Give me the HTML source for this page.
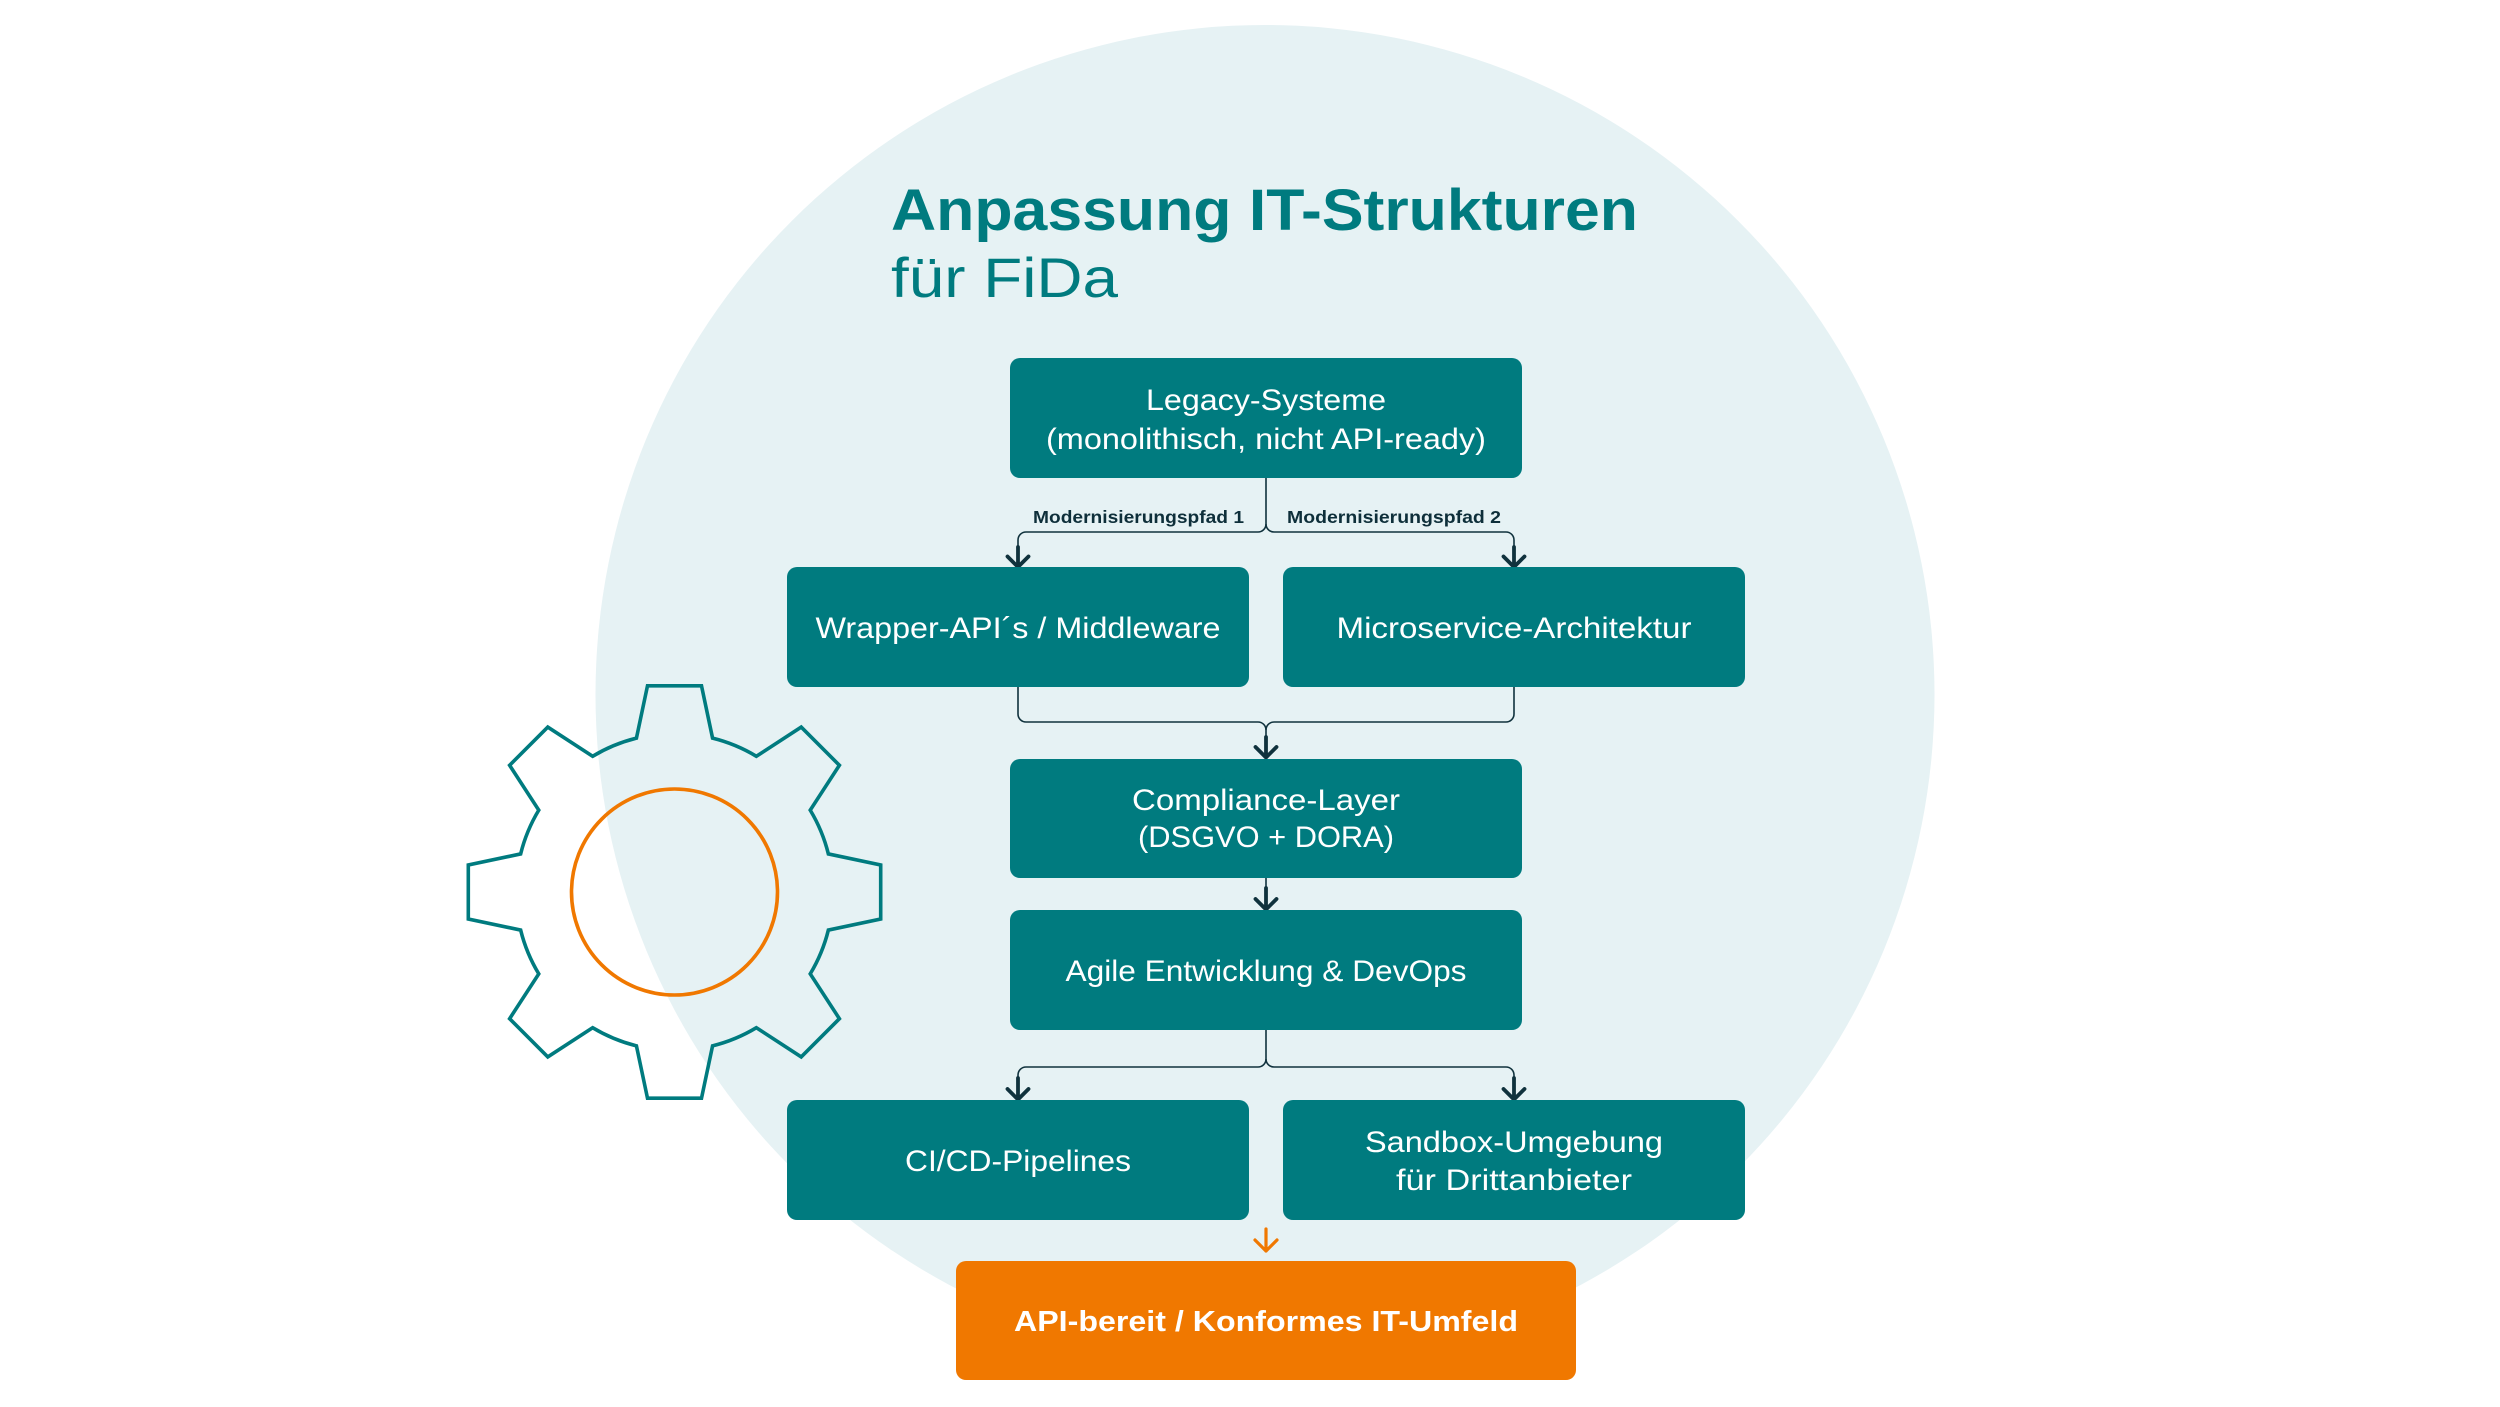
<!DOCTYPE html>
<html>
<head>
<meta charset="utf-8">
<style>
  html, body { margin: 0; padding: 0; background: #ffffff; }
  body { width: 2500px; height: 1407px; overflow: hidden; }
  svg { display: block; }
  .box { fill: #007b7f; }
  .bt { font-family: "Liberation Sans", sans-serif; font-size: 30px; fill: #ffffff; }
  .lbl { font-family: "Liberation Sans", sans-serif; font-size: 17.5px; font-weight: bold; fill: #0e2f3a; }
  .thin { fill: none; stroke: #10323d; stroke-width: 1.6; }
  .thick { fill: none; stroke: #10323d; stroke-width: 3.8; stroke-linecap: round; stroke-linejoin: round; }
  .orng { fill: none; stroke: #f07800; stroke-width: 3.2; stroke-linecap: round; stroke-linejoin: round; }
</style>
</head>
<body>
<svg width="2500" height="1407" viewBox="0 0 2500 1407" xmlns="http://www.w3.org/2000/svg">
  <rect x="0" y="0" width="2500" height="1407" fill="#ffffff"/>
  <!-- background circle -->
  <circle cx="1265" cy="694.5" r="669.5" fill="#e6f2f4"/>

  <!-- gear -->
  <g transform="translate(674.5,892)">
    <path fill="none" stroke="#007b7f" stroke-width="3.6" stroke-linejoin="miter"
      d="M -38.07 -153.86 L -27 -206.2 L 27 -206.2 L 38.07 -153.86
         A 158.5 158.5 0 0 1 81.88 -135.72 L 126.71 -164.90 L 164.90 -126.71 L 135.72 -81.88
         A 158.5 158.5 0 0 1 153.86 -38.07 L 206.2 -27 L 206.2 27 L 153.86 38.07
         A 158.5 158.5 0 0 1 135.72 81.88 L 164.90 126.71 L 126.71 164.90 L 81.88 135.72
         A 158.5 158.5 0 0 1 38.07 153.86 L 27 206.2 L -27 206.2 L -38.07 153.86
         A 158.5 158.5 0 0 1 -81.88 135.72 L -126.71 164.90 L -164.90 126.71 L -135.72 81.88
         A 158.5 158.5 0 0 1 -153.86 38.07 L -206.2 27 L -206.2 -27 L -153.86 -38.07
         A 158.5 158.5 0 0 1 -135.72 -81.88 L -164.90 -126.71 L -126.71 -164.90 L -81.88 -135.72
         A 158.5 158.5 0 0 1 -38.07 -153.86 Z"/>
    <circle cx="0" cy="0" r="103" fill="none" stroke="#f07800" stroke-width="3.6"/>
  </g>

  <!-- title -->
  <text x="891" y="230" font-family="Liberation Sans, sans-serif" font-weight="bold" font-size="58" fill="#007b7f" textLength="747" lengthAdjust="spacingAndGlyphs">Anpassung IT-Strukturen</text>
  <text x="891" y="297" font-family="Liberation Sans, sans-serif" font-size="56" fill="#007b7f" textLength="227" lengthAdjust="spacingAndGlyphs">für FiDa</text>

  <!-- connectors -->
  <!-- split 1 -->
  <path class="thin" d="M1266 478 V524 A8 8 0 0 1 1258 532 H1026 A8 8 0 0 0 1018 540 V550"/>
  <path class="thin" d="M1266 524 A8 8 0 0 0 1274 532 H1506 A8 8 0 0 1 1514 540 V550"/>
  <path class="thick" d="M1018 547 V566 M1007.5 556.5 L1018 567 L1028.5 556.5"/>
  <path class="thick" d="M1514 547 V566 M1503.5 556.5 L1514 567 L1524.5 556.5"/>
  <text class="lbl" x="1244" y="523" text-anchor="end" textLength="211" lengthAdjust="spacingAndGlyphs">Modernisierungspfad 1</text>
  <text class="lbl" x="1287" y="523" textLength="214" lengthAdjust="spacingAndGlyphs">Modernisierungspfad 2</text>

  <!-- merge -->
  <path class="thin" d="M1018 687 V714 A8 8 0 0 0 1026 722 H1258 A8 8 0 0 1 1266 730 V740"/>
  <path class="thin" d="M1514 687 V714 A8 8 0 0 1 1506 722 H1274 A8 8 0 0 0 1266 730"/>
  <path class="thick" d="M1266 737 V757 M1255.5 747 L1266 757.5 L1276.5 747"/>

  <!-- compliance -> agile -->
  <path class="thin" d="M1266 878 V892"/>
  <path class="thick" d="M1266 888 V909 M1255.5 899 L1266 909.5 L1276.5 899"/>

  <!-- split 2 -->
  <path class="thin" d="M1266 1030 V1059 A8 8 0 0 1 1258 1067 H1026 A8 8 0 0 0 1018 1075 V1082"/>
  <path class="thin" d="M1266 1059 A8 8 0 0 0 1274 1067 H1506 A8 8 0 0 1 1514 1075 V1082"/>
  <path class="thick" d="M1018 1078 V1099 M1007.5 1089 L1018 1099.5 L1028.5 1089"/>
  <path class="thick" d="M1514 1078 V1099 M1503.5 1089 L1514 1099.5 L1524.5 1089"/>

  <!-- orange arrow -->
  <path class="orng" d="M1266 1229 V1251 M1255 1240 L1266 1251 L1277 1240"/>

  <!-- boxes -->
  <rect class="box" x="1010" y="358" width="512" height="120" rx="10" ry="10"/>
  <text class="bt" x="1266" y="410" text-anchor="middle" textLength="240" lengthAdjust="spacingAndGlyphs">Legacy-Systeme</text>
  <text class="bt" x="1266" y="449" text-anchor="middle" textLength="440" lengthAdjust="spacingAndGlyphs">(monolithisch, nicht API-ready)</text>

  <rect class="box" x="787" y="567" width="462" height="120" rx="10" ry="10"/>
  <text class="bt" x="1018" y="638" text-anchor="middle" textLength="405" lengthAdjust="spacingAndGlyphs">Wrapper-API´s / Middleware</text>

  <rect class="box" x="1283" y="567" width="462" height="120" rx="10" ry="10"/>
  <text class="bt" x="1514" y="638" text-anchor="middle" textLength="355" lengthAdjust="spacingAndGlyphs">Microservice-Architektur</text>

  <rect class="box" x="1010" y="759" width="512" height="119" rx="10" ry="10"/>
  <text class="bt" x="1266" y="810" text-anchor="middle" textLength="268" lengthAdjust="spacingAndGlyphs">Compliance-Layer</text>
  <text class="bt" x="1266" y="847" text-anchor="middle" textLength="256" lengthAdjust="spacingAndGlyphs">(DSGVO + DORA)</text>

  <rect class="box" x="1010" y="910" width="512" height="120" rx="10" ry="10"/>
  <text class="bt" x="1266" y="981" text-anchor="middle" textLength="401" lengthAdjust="spacingAndGlyphs">Agile Entwicklung &amp; DevOps</text>

  <rect class="box" x="787" y="1100" width="462" height="120" rx="10" ry="10"/>
  <text class="bt" x="1018" y="1171" text-anchor="middle" textLength="226" lengthAdjust="spacingAndGlyphs">CI/CD-Pipelines</text>

  <rect class="box" x="1283" y="1100" width="462" height="120" rx="10" ry="10"/>
  <text class="bt" x="1514" y="1152" text-anchor="middle" textLength="298" lengthAdjust="spacingAndGlyphs">Sandbox-Umgebung</text>
  <text class="bt" x="1514" y="1190" text-anchor="middle" textLength="236" lengthAdjust="spacingAndGlyphs">für Drittanbieter</text>

  <rect x="956" y="1261" width="620" height="119" rx="10" ry="10" fill="#f07800"/>
  <text x="1266" y="1331" text-anchor="middle" font-family="Liberation Sans, sans-serif" font-weight="bold" font-size="29" fill="#ffffff" textLength="504" lengthAdjust="spacingAndGlyphs">API-bereit / Konformes IT-Umfeld</text>
</svg>
</body>
</html>
